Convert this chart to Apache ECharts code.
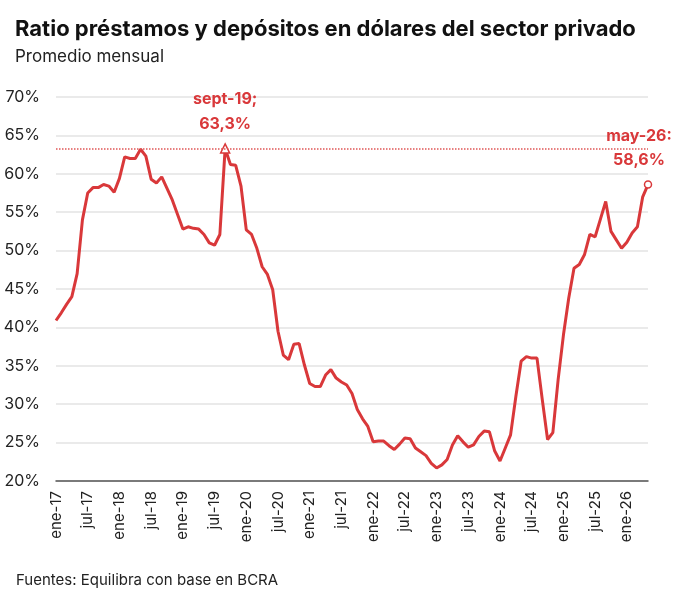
<!DOCTYPE html>
<html>
<head>
<meta charset="utf-8">
<script src="https://cdn.jsdelivr.net/npm/echarts@6/dist/echarts.min.js"></script>
<style>
  html, body { margin: 0; padding: 0; background: #fff; }
  #chart { width: 680px; height: 595px; }
</style>
</head>
<body>
<div id="chart"></div>
<script>
// ratio mensual (%), por año
var v2017 = [40.9, 41.9, 43.0, 44.0, 47.0, 54.0, 57.5, 58.2, 58.2, 58.6, 58.4, 57.6];
var v2018 = [59.4, 62.2, 62.0, 62.0, 63.2, 62.3, 59.3, 58.8, 59.6, 58.1, 56.6, 54.7];
var v2019 = [52.8, 53.1, 52.9, 52.8, 52.1, 51.0, 50.7, 52.1, 63.3, 61.2, 61.1, 58.4];
var v2020 = [52.7, 52.1, 50.3, 47.9, 46.9, 44.9, 39.5, 36.4, 35.8, 37.8, 37.9, 35.1];
var v2021 = [32.7, 32.3, 32.3, 33.8, 34.5, 33.4, 32.9, 32.5, 31.4, 29.3, 28.1, 27.1];
var v2022 = [25.1, 25.2, 25.2, 24.6, 24.1, 24.8, 25.6, 25.5, 24.3, 23.8, 23.3, 22.3];
var v2023 = [21.7, 22.1, 22.8, 24.7, 25.9, 25.1, 24.4, 24.7, 25.8, 26.5, 26.4, 23.9];
var v2024 = [22.6, 24.3, 26.0, 31.0, 35.6, 36.2, 36.0, 36.0, 30.6, 25.4, 26.3, 33.2];
var v2025 = [39.0, 43.8, 47.7, 48.2, 49.5, 52.1, 51.8, 54.1, 56.4, 52.5, 51.4, 50.3];
var v2026 = [51.1, 52.3, 53.1, 57.0, 58.6];

var meses = ['ene', 'feb', 'mar', 'abr', 'may', 'jun', 'jul', 'ago', 'sept', 'oct', 'nov', 'dic'];
var anios = ['17', '18', '19', '20', '21', '22', '23', '24', '25', '26'];
var yTicks = [20, 25, 30, 35, 40, 45, 50, 55, 60, 65, 70];

var valores = [].concat(v2017, v2018, v2019, v2020, v2021, v2022, v2023, v2024, v2025, v2026);
var categorias = [];
anios.forEach(function (a) {
  meses.forEach(function (m) { categorias.push(m + '-' + a); });
});
categorias = categorias.slice(0, valores.length);

var rojo = '#d9383a';
var fuente = 'Inter';

// puntos destacados: maximo (sept-19) y ultimo dato
var iMax = categorias.indexOf('sept-19');
var iUlt = valores.length - 1;
var datos = valores.map(function (v, i) {
  if (i === iMax) {
    return {
      value: v, symbol: 'triangle', symbolSize: 9,
      itemStyle: { color: '#fff', borderColor: rojo, borderWidth: 1.5 },
      label: {
        show: true, position: 'top', distance: 7,
        formatter: categorias[i] + ';\n' + v.toFixed(1).replace('.', ',') + '%',
        color: rojo, fontSize: 16, fontWeight: 'bold', fontFamily: fuente,
        lineHeight: 25, align: 'center'
      }
    };
  }
  if (i === iUlt) {
    return {
      value: v, symbol: 'circle', symbolSize: 7,
      itemStyle: { color: '#fff', borderColor: rojo, borderWidth: 1.5 },
      label: {
        show: true, position: 'top', distance: 8, offset: [-9, 0],
        formatter: categorias[i] + ':\n' + v.toFixed(1).replace('.', ',') + '%',
        color: rojo, fontSize: 16, fontWeight: 'bold', fontFamily: fuente,
        lineHeight: 24, align: 'center'
      }
    };
  }
  return { value: v, symbol: 'none' };
});

var myChart = echarts.init(document.getElementById('chart'));
var option = {
  backgroundColor: '#fff',
  animation: false,
  textStyle: { fontFamily: fuente },
  title: [{
    text: 'Ratio préstamos y depósitos en dólares del sector privado',
    left: 10, top: 13,
    textStyle: { fontSize: 22, fontWeight: 'bold', color: '#111', fontFamily: fuente }
  }, {
    text: 'Promedio mensual',
    left: 10, top: 43,
    textStyle: { fontSize: 17, fontWeight: 'normal', color: '#222', fontFamily: fuente }
  }, {
    text: 'Fuentes: Equilibra con base en BCRA',
    left: 11, top: 568,
    textStyle: { fontSize: 15, fontWeight: 'normal', color: '#222', fontFamily: fuente }
  }],
  grid: { left: 56, right: 32, top: 97, bottom: 114 },
  xAxis: {
    type: 'category',
    data: categorias,
    boundaryGap: false,
    axisLine: { lineStyle: { color: '#555', width: 1.5 } },
    axisTick: { show: false },
    axisLabel: {
      rotate: 90, margin: 10, fontSize: 15, color: '#222',
      interval: function (i) { return i % 6 === 0; }
    }
  },
  yAxis: {
    type: 'value',
    min: yTicks[0], max: yTicks[yTicks.length - 1], interval: 5,
    axisLine: { show: false },
    axisTick: { show: false },
    axisLabel: { formatter: '{value}%', fontSize: 16, color: '#222', margin: 16 },
    splitLine: { lineStyle: { color: '#e3e3e3', width: 1.5 } }
  },
  series: [{
    type: 'line',
    data: datos,
    symbol: 'circle',
    showSymbol: true,
    showAllSymbol: true,
    lineStyle: { color: rojo, width: 3 },
    itemStyle: { color: rojo },
    markLine: {
      silent: true,
      symbol: ['none', 'none'],
      label: { show: false },
      lineStyle: { type: 'dotted', color: '#e05555', width: 1.5 },
      data: [{ yAxis: valores[iMax] }]
    }
  }]
};
option && myChart.setOption(option);
</script>
</body>
</html>
